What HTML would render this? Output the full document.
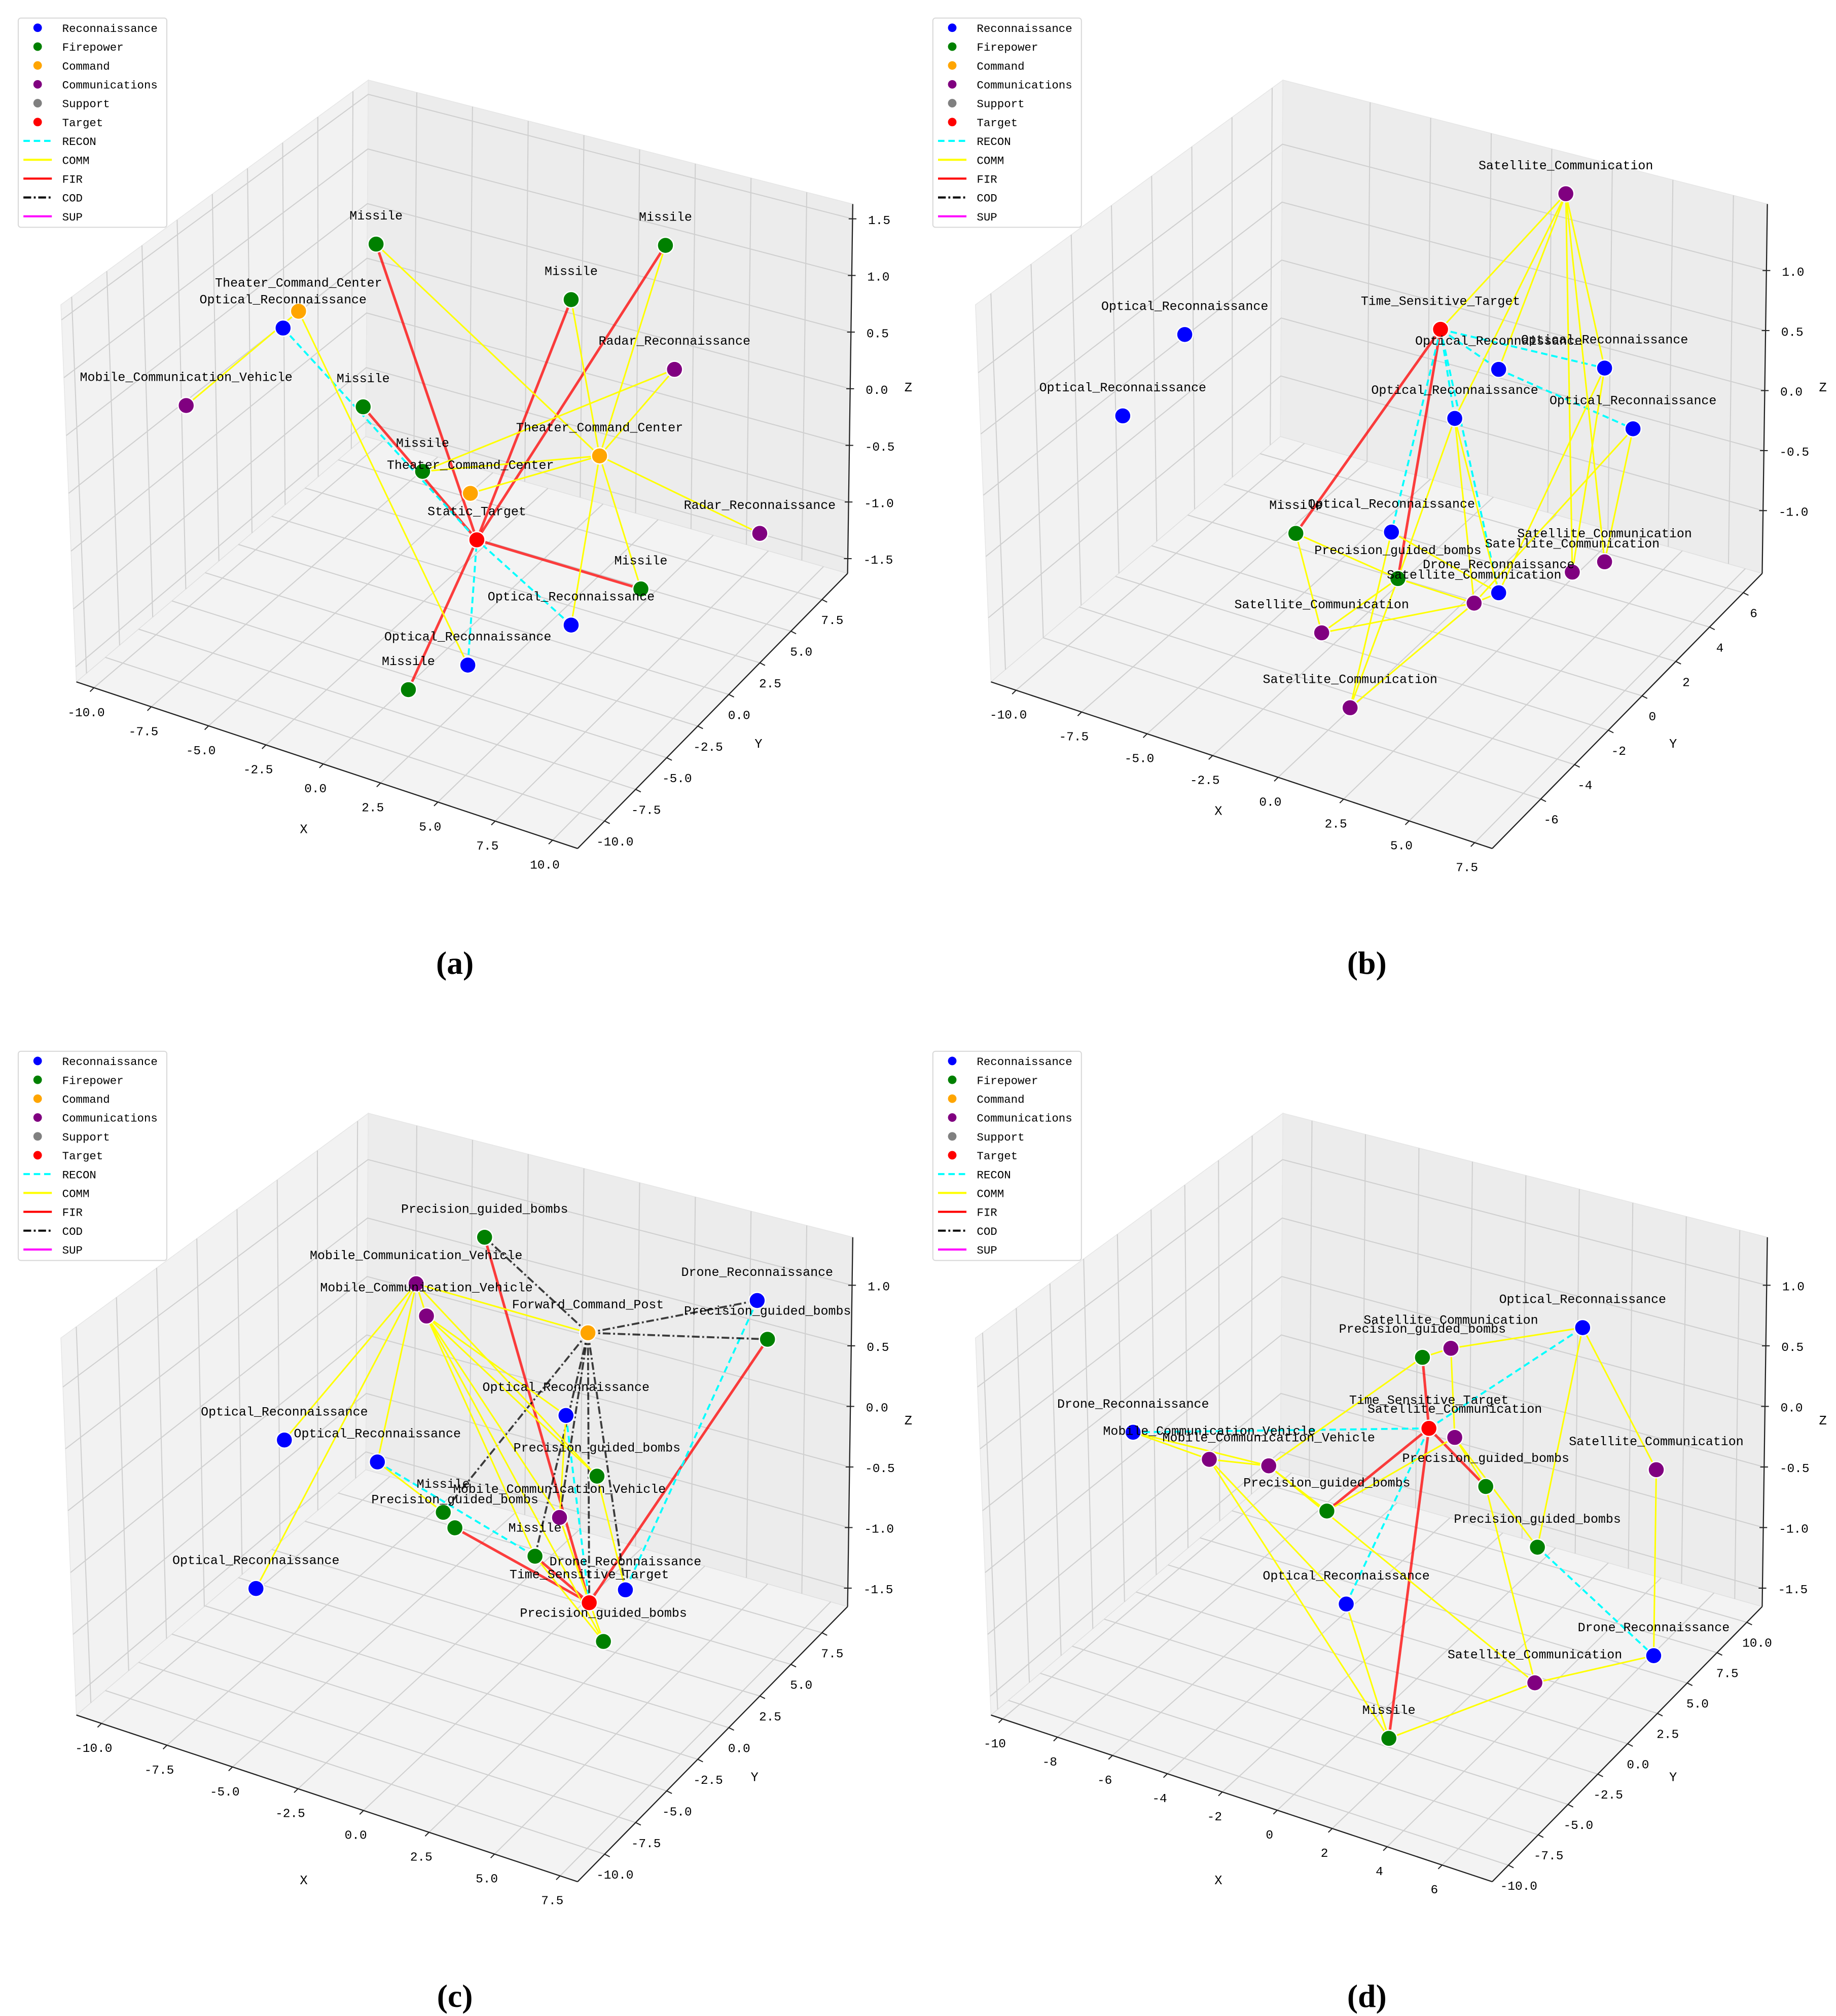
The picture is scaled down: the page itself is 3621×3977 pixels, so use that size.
<!DOCTYPE html>
<html><head><meta charset="utf-8"><style>
html,body{margin:0;padding:0;background:#fff;}
svg{display:block;}
text{font-family:"Liberation Mono","DejaVu Sans Mono",monospace;}
</style></head><body>
<svg id="fig" xmlns="http://www.w3.org/2000/svg" width="3621" height="3977" viewBox="0 0 1421 1561"></svg>
<script>
// ---- data ----
const legendLabels=["Reconnaissance","Firepower","Command","Communications","Support","Target","RECON","COMM","FIR","COD","SUP"];
const typeColors={R:"#0000ff",F:"#008000",C:"#ffa500",M:"#800080",S:"#808080",T:"#ff0000"};
const edgeStyles={RECON:{c:"#00ffff",w:1.5,d:"5,3",o:1},COMM:{c:"#ffff00",w:1.2,d:"",o:1},FIR:{c:"#ff0000",w:2,d:"",o:0.75},COD:{c:"#000",w:1.5,d:"6,2,1.5,2",o:0.75},SUP:{c:"#ff00ff",w:1.5,d:"",o:1}};

// panel A
const aNames=["Missile","Missile","Missile","Theater_Command_Center","Optical_Reconnaissance","Mobile_Communication_Vehicle","Radar_Reconnaissance","Missile","Theater_Command_Center","Missile","Theater_Command_Center","Static_Target","Radar_Reconnaissance","Missile","Optical_Reconnaissance","Optical_Reconnaissance","Missile"];
const aTypes=["F","F","F","C","R","M","M","F","C","F","C","T","M","F","R","R","F"];
const aPx=[291,515,442,231,219,144,522,281,464,327,364,369,588,496,442,362,316];
const aPy=[189,190,232,241,254,314,286,315,353,365,382,418,413,456,484,515,534];
const aEdges=[[11,0,"FIR"],[11,1,"FIR"],[11,2,"FIR"],[11,7,"FIR"],[11,13,"FIR"],[11,16,"FIR"],[4,11,"RECON"],[14,11,"RECON"],[15,11,"RECON"],[5,3,"COMM"],[3,15,"COMM"],[0,8,"COMM"],[1,8,"COMM"],[2,8,"COMM"],[6,8,"COMM"],[6,9,"COMM"],[8,12,"COMM"],[8,10,"COMM"],[8,13,"COMM"],[8,14,"COMM"],[8,9,"COMM"]];
const aXTicks=["-10.0","-7.5","-5.0","-2.5","0.0","2.5","5.0","7.5","10.0"];
const aYTicks=["7.5","5.0","2.5","0.0","-2.5","-5.0","-7.5","-10.0"];
const aZTicks=["1.5","1.0","0.5","0.0","-0.5","-1.0","-1.5"];

// panel B
const bNames=["Satellite_Communication","Optical_Reconnaissance","Optical_Reconnaissance","Time_Sensitive_Target","Optical_Reconnaissance","Optical_Reconnaissance","Optical_Reconnaissance","Optical_Reconnaissance","Missile","Optical_Reconnaissance","Precision_guided_bombs","Satellite_Communication","Satellite_Communication","Drone_Reconnaissance","Satellite_Communication","Satellite_Communication","Satellite_Communication"];
const bTypes=["M","R","R","T","R","R","R","R","F","R","F","M","M","R","M","M","M"];
const bPx=[504,209,161,407,452,534,418,556,295,369,374,534,509,452,433,315,337];
const bPy=[150,259,322,255,286,285,324,332,413,412,448,435,443,459,467,490,548];
const bEdges=[[3,8,"FIR"],[3,10,"FIR"],[3,4,"RECON"],[3,5,"RECON"],[3,6,"RECON"],[3,9,"RECON"],[3,13,"RECON"],[4,7,"RECON"],[0,3,"COMM"],[0,4,"COMM"],[0,5,"COMM"],[0,6,"COMM"],[0,11,"COMM"],[0,12,"COMM"],[6,13,"COMM"],[6,14,"COMM"],[5,12,"COMM"],[7,14,"COMM"],[8,15,"COMM"],[8,10,"COMM"],[9,16,"COMM"],[10,14,"COMM"],[10,16,"COMM"],[13,14,"COMM"],[15,10,"COMM"],[9,13,"COMM"],[5,13,"COMM"],[7,11,"COMM"],[6,10,"COMM"],[14,16,"COMM"],[15,14,"COMM"]];
const bXTicks=["-10.0","-7.5","-5.0","-2.5","0.0","2.5","5.0","7.5"];
const bYTicks=["6","4","2","0","-2","-4","-6"];
const bZTicks=["1.0","0.5","0.0","-0.5","-1.0"];

// panel C
const cNames=["Precision_guided_bombs","Mobile_Communication_Vehicle","Mobile_Communication_Vehicle","Drone_Reconnaissance","Precision_guided_bombs","Forward_Command_Post","Optical_Reconnaissance","Optical_Reconnaissance","Optical_Reconnaissance","Precision_guided_bombs","Missile","Precision_guided_bombs","Mobile_Communication_Vehicle","Missile","Drone_Reconnaissance","Time_Sensitive_Target","Precision_guided_bombs","Optical_Reconnaissance"];
const cTypes=["F","M","M","R","F","C","R","R","R","F","F","F","M","F","R","T","F","R"];
const cPx=[375,322,330,586,594,455,438,220,292,462,343,352,433,414,484,456,467,198];
const cPy=[158,194,219,207,237,232,296,315,332,343,371,383,375,405,431,441,471,430];
const cEdges=[[15,0,"FIR"],[15,4,"FIR"],[15,11,"FIR"],[15,13,"FIR"],[3,14,"RECON"],[8,13,"RECON"],[6,15,"RECON"],[5,0,"COD"],[5,3,"COD"],[5,4,"COD"],[5,12,"COD"],[5,10,"COD"],[5,13,"COD"],[5,14,"COD"],[5,15,"COD"],[1,2,"COMM"],[1,7,"COMM"],[1,17,"COMM"],[1,5,"COMM"],[1,9,"COMM"],[2,9,"COMM"],[2,12,"COMM"],[2,16,"COMM"],[2,13,"COMM"],[2,6,"COMM"],[1,8,"COMM"],[12,16,"COMM"],[9,14,"COMM"],[12,15,"COMM"],[8,10,"COMM"],[6,12,"COMM"],[13,16,"COMM"]];
const cXTicks=["-10.0","-7.5","-5.0","-2.5","0.0","2.5","5.0","7.5"];
const cYTicks=["7.5","5.0","2.5","0.0","-2.5","-5.0","-7.5","-10.0"];
const cZTicks=["1.0","0.5","0.0","-0.5","-1.0","-1.5"];

// panel D
const dNames=["Optical_Reconnaissance","Satellite_Communication","Precision_guided_bombs","Drone_Reconnaissance","Time_Sensitive_Target","Satellite_Communication","Mobile_Communication_Vehicle","Mobile_Communication_Vehicle","Satellite_Communication","Precision_guided_bombs","Precision_guided_bombs","Precision_guided_bombs","Optical_Reconnaissance","Drone_Reconnaissance","Satellite_Communication","Missile"];
const dTypes=["R","M","F","R","T","M","M","M","M","F","F","F","R","R","M","F"];
const dPx=[517,415,393,169,398,418,228,274,574,442,319,482,334,572,480,367];
const dPy=[228,244,251,309,306,313,330,335,338,351,370,398,442,482,503,546];
const dEdges=[[4,2,"FIR"],[4,10,"FIR"],[4,15,"FIR"],[4,9,"FIR"],[4,3,"RECON"],[4,0,"RECON"],[12,4,"RECON"],[11,13,"RECON"],[0,1,"COMM"],[0,8,"COMM"],[0,11,"COMM"],[1,2,"COMM"],[1,5,"COMM"],[3,6,"COMM"],[3,7,"COMM"],[6,7,"COMM"],[6,12,"COMM"],[7,10,"COMM"],[7,14,"COMM"],[5,9,"COMM"],[5,11,"COMM"],[8,13,"COMM"],[13,14,"COMM"],[14,15,"COMM"],[15,12,"COMM"],[6,15,"COMM"],[9,14,"COMM"],[10,5,"COMM"],[2,7,"COMM"]];
const dXTicks=["-10","-8","-6","-4","-2","0","2","4","6"];
const dYTicks=["10.0","7.5","5.0","2.5","0.0","-2.5","-5.0","-7.5","-10.0"];
const dZTicks=["1.0","0.5","0.0","-0.5","-1.0","-1.5"];

const captions=["(a)","(b)","(c)","(d)"];

// ---- rendering ----
const NS="http://www.w3.org/2000/svg";
const svg=document.getElementById("fig");
function mk(tag,attrs,parent){const e=document.createElementNS(NS,tag);for(const k in attrs)e.setAttribute(k,attrs[k]);(parent||svg).appendChild(e);return e;}
// box corners (relative to panel origin)
const TL=[47,236],TB=[285,62],TR=[660,158],BL=[59,528],BB=[283,338],BR=[656,444],BF=[447,657];
function lerp(p,q,t){return [p[0]+(q[0]-p[0])*t,p[1]+(q[1]-p[1])*t];}
function bil(a,b,c,d,u,v){const top=lerp(a,b,u),bot=lerp(d,c,u);return lerp(top,bot,v);}
function poly(pts){return pts.map(p=>p.join(",")).join(" ");}

function drawPanel(ox,oy,P){
  const g=mk("g",{transform:`translate(${ox},${oy})`});
  
  
  const lp=mk("polygon",{points:poly([TL,TB,BB,BL]),fill:"#f2f2f2",stroke:"#e6e6e6","stroke-width":0.6},g);
  
  const rp=mk("polygon",{points:poly([TB,TR,BR,BB]),fill:"#ececec",stroke:"#e6e6e6","stroke-width":0.6},g);
  
  const fp=mk("polygon",{points:poly([BL,BB,BR,BF]),fill:"#f3f3f3",stroke:"#e0e0e0","stroke-width":0.6},g);
  
  const gl=mk("g",{stroke:"#cfcfcf","stroke-width":0.8,fill:"none"},g);
  
  const fr=(n,i,a,b)=>a+(b-a)*(n>1?i/(n-1):0);
  const nx=P.xt.length,ny=P.yt.length,nz=P.zt.length;
  for(let i=0;i<nx;i++){const u=fr(nx,i,P.xf[0],P.xf[1]);
    const a=bil(TL,TB,BB,BL,u,0),b=bil(TL,TB,BB,BL,u,1);mk("line",{x1:a[0],y1:a[1],x2:b[0],y2:b[1]},gl);
    const c=lerp(BL,BF,u),d=lerp(BB,BR,u);mk("line",{x1:c[0],y1:c[1],x2:d[0],y2:d[1]},gl);}
  for(let i=0;i<ny;i++){const u=fr(ny,i,P.yf[0],P.yf[1]);
    const a=bil(TR,TB,BB,BR,u,0),b=bil(TR,TB,BB,BR,u,1);mk("line",{x1:a[0],y1:a[1],x2:b[0],y2:b[1]},gl);
    const c=lerp(BR,BF,u),d=lerp(BB,BL,u);mk("line",{x1:c[0],y1:c[1],x2:d[0],y2:d[1]},gl);}
  for(let i=0;i<nz;i++){const v=fr(nz,i,P.z0,P.z1);
    const a=lerp(TL,BL,v),b=lerp(TB,BB,v),c=lerp(TR,BR,v);
    mk("polyline",{points:poly([a,b,c])},gl);}
  const ax=mk("g",{stroke:"#222","stroke-width":0.9,fill:"none"},g);
  
  mk("line",{x1:BL[0],y1:BL[1],x2:BF[0],y2:BF[1]},ax);
  mk("line",{x1:BF[0],y1:BF[1],x2:BR[0],y2:BR[1]},ax);
  mk("line",{x1:TR[0],y1:TR[1],x2:BR[0],y2:BR[1]},ax);
  const tk=mk("g",{"font-size":9.6,fill:"#000"},g);
  
  for(let i=0;i<nx;i++){const p=lerp(BL,BF,fr(nx,i,P.xf[0],P.xf[1]));
    mk("line",{x1:p[0],y1:p[1],x2:p[0]-3,y2:p[1]+3,stroke:"#222","stroke-width":0.8},tk);
    const t=mk("text",{x:p[0]-6,y:p[1]+22,"text-anchor":"middle"},tk);t.textContent=P.xt[i];}
  for(let i=0;i<ny;i++){const p=lerp(BR,BF,fr(ny,i,P.yf[0],P.yf[1]));
    mk("line",{x1:p[0],y1:p[1],x2:p[0]+4,y2:p[1]+2,stroke:"#222","stroke-width":0.8},tk);
    const t=mk("text",{x:p[0]+8,y:p[1]+19,"text-anchor":"middle"},tk);t.textContent=P.yt[i];}
  for(let i=0;i<nz;i++){const p=lerp(TR,BR,fr(nz,i,P.z0,P.z1));
    mk("line",{x1:p[0]-3,y1:p[1],x2:p[0]+3,y2:p[1],stroke:"#222","stroke-width":0.8},tk);
    const t=mk("text",{x:p[0]+12,y:p[1]+4,"text-anchor":"start"},tk);t.textContent=P.zt[i];}
  const lx=mk("text",{x:P.lab[0][0],y:P.lab[0][1],"font-size":10},g);lx.textContent="X";
  
  const ly=mk("text",{x:P.lab[1][0],y:P.lab[1][1],"font-size":10},g);ly.textContent="Y";
  
  const lz=mk("text",{x:P.lab[2][0],y:P.lab[2][1],"font-size":10},g);lz.textContent="Z";
  
  const eg=mk("g",{fill:"none"},g);
  
  P.edges.forEach(e=>{const s=edgeStyles[e[2]];
    const l=mk("line",{x1:P.px[e[0]],y1:P.py[e[0]],x2:P.px[e[1]],y2:P.py[e[1]],stroke:s.c,"stroke-width":s.w,"stroke-opacity":s.o},eg);
    if(s.d)l.setAttribute("stroke-dasharray",s.d);
    
    });
  const ng=mk("g",{},g);
  
  P.px.forEach((x,i)=>{const c=mk("circle",{cx:x,cy:P.py[i],r:6.3,fill:typeColors[P.types[i]],stroke:"#fff","stroke-width":1},ng);
    
    });
  P.px.forEach((x,i)=>{const t=mk("text",{x:x,y:P.py[i]-19,"font-size":9.8,"text-anchor":"middle",fill:"#000"},ng);
    t.textContent=P.names[i];
    
    });
  const lg=mk("g",{},g);
  
  mk("rect",{x:14,y:14,width:115,height:162,rx:2,fill:"#fff",stroke:"#d8d8d8","stroke-width":0.8},lg);
  const cols=["#0000ff","#008000","#ffa500","#800080","#808080","#ff0000"];
  const ek=["RECON","COMM","FIR","COD","SUP"];
  legendLabels.forEach((lab,i)=>{const y=21.5+i*14.6;
    if(i<6){mk("circle",{cx:29,cy:y,r:3.3,fill:cols[i]},lg);}
    else{const s=edgeStyles[ek[i-6]];const l=mk("line",{x1:18,y1:y,x2:40,y2:y,stroke:s.c,"stroke-width":1.6},lg);if(s.d)l.setAttribute("stroke-dasharray",s.d);}
    const t=mk("text",{x:48,y:y+3.2,"font-size":8.8},lg);t.textContent=lab;
    });
}
const panels=[
 {id:"a",ox:0,oy:0,names:aNames,types:aTypes,px:aPx,py:aPy,edges:aEdges,xt:aXTicks,yt:aYTicks,zt:aZTicks,xf:[0.035,0.95],yf:[0.095,0.9],z0:0.04,z1:0.96,lab:[[232,645],[584,579],[700,303]]},
 {id:"b",ox:708,oy:0,names:bNames,types:bTypes,px:bPx,py:bPy,edges:bEdges,xt:bXTicks,yt:bYTicks,zt:bZTicks,xf:[0.05,0.965],yf:[0.07,0.82],z0:0.18,z1:0.83,lab:[[232,631],[584,579],[700,303]]},
 {id:"c",ox:0,oy:800,names:cNames,types:cTypes,px:cPx,py:cPy,edges:cEdges,xt:cXTicks,yt:cYTicks,zt:cZTicks,xf:[0.05,0.965],yf:[0.095,0.9],z0:0.13,z1:0.95,lab:[[232,659],[581,579],[700,303]]},
 {id:"d",ox:708,oy:800,names:dNames,types:dTypes,px:dPx,py:dPy,edges:dEdges,xt:dXTicks,yt:dYTicks,zt:dZTicks,xf:[0.023,0.9],yf:[0.057,0.94],z0:0.13,z1:0.95,lab:[[232,659],[584,579],[700,303]]}
];
panels.forEach(P=>drawPanel(P.ox,P.oy,P));
const capPos=[[352,754],[1058,754],[352,1554],[1058,1554]];
captions.forEach((c,i)=>{const t=mk("text",{x:capPos[i][0],y:capPos[i][1],"font-size":25,"text-anchor":"middle",style:'font-family:"Liberation Serif",serif;font-weight:bold'});
  t.textContent=c;
  
  });
</script>
</body></html>
